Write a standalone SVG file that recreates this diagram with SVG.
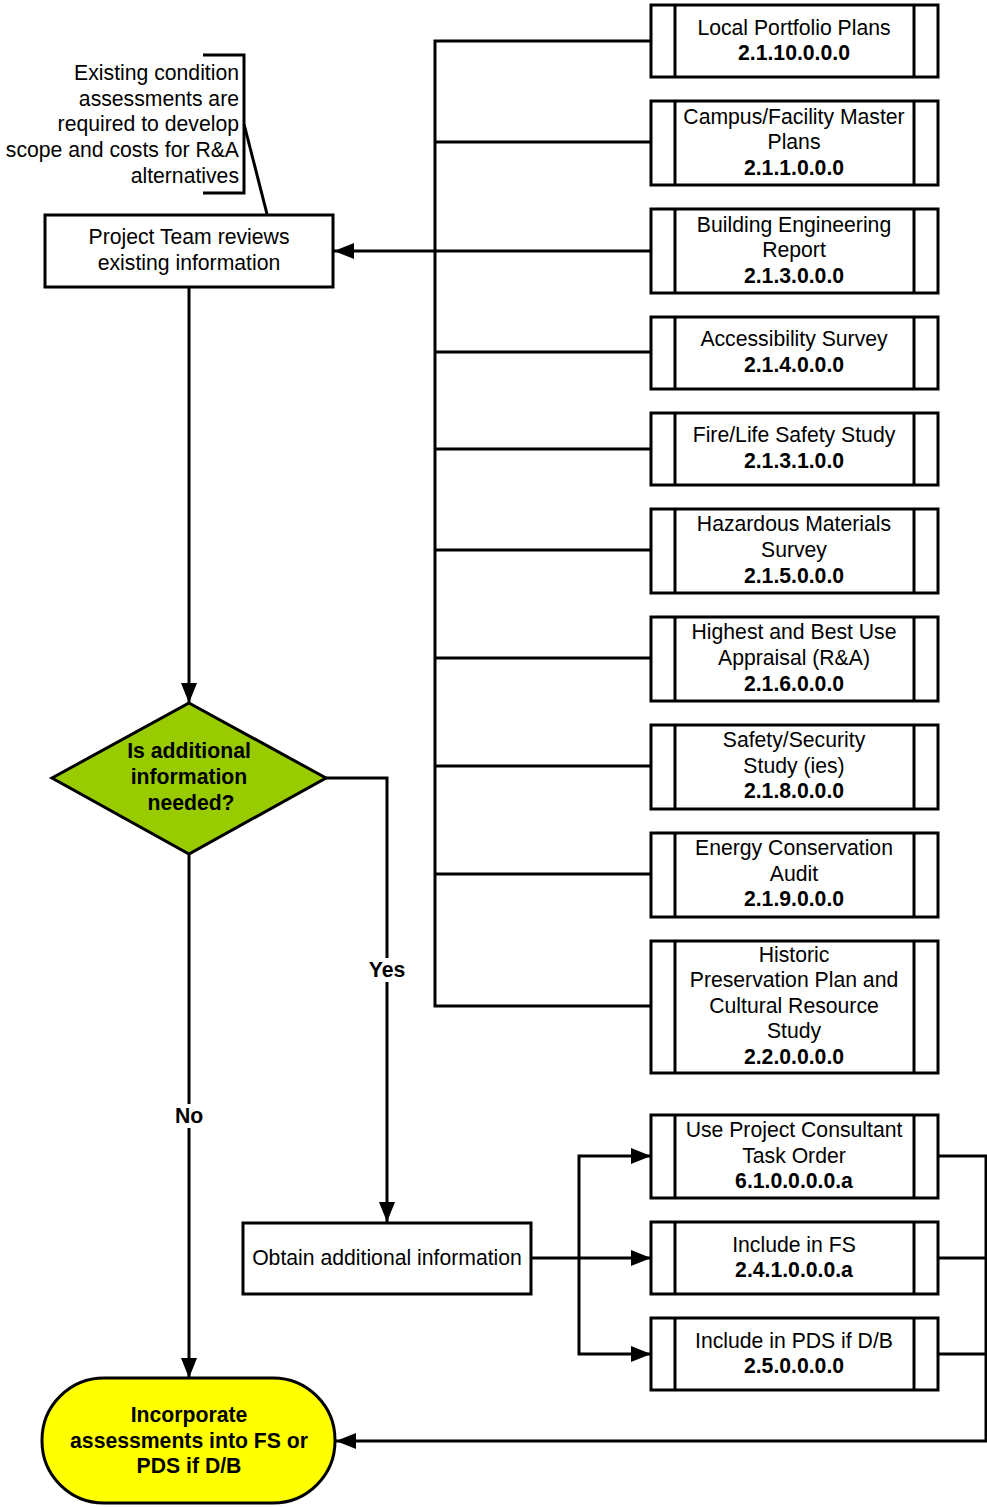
<svg xmlns="http://www.w3.org/2000/svg" width="987" height="1507" viewBox="0 0 987 1507">
<style>
text{font-family:"Liberation Sans",Arial,sans-serif;font-size:21.2px;fill:#000;text-anchor:middle}
.b{font-weight:bold}
.box{fill:#fff;stroke:#000;stroke-width:3}
.ln{fill:none;stroke:#000;stroke-width:3}
.c{fill:none;stroke:#000;stroke-width:3}
</style>
<defs>
<marker id="ah" viewBox="0 0 20 16" refX="20" refY="8" markerWidth="20" markerHeight="16" markerUnits="userSpaceOnUse" orient="auto">
<path d="M0,0 L20,8 L0,16 Z" fill="#000"/>
</marker>
</defs>

<g id="connectors">
<polyline class="c" points="651,41 435,41 435,1006 651,1006"/>
<line class="c" x1="435" y1="142" x2="651" y2="142"/>
<line class="c" x1="435" y1="251" x2="651" y2="251"/>
<line class="c" x1="435" y1="352" x2="651" y2="352"/>
<line class="c" x1="435" y1="449" x2="651" y2="449"/>
<line class="c" x1="435" y1="550" x2="651" y2="550"/>
<line class="c" x1="435" y1="658" x2="651" y2="658"/>
<line class="c" x1="435" y1="766" x2="651" y2="766"/>
<line class="c" x1="435" y1="874" x2="651" y2="874"/>
<line class="c" x1="435" y1="251" x2="334" y2="251" marker-end="url(#ah)"/>
<line class="c" x1="189" y1="287" x2="189" y2="703" marker-end="url(#ah)"/>
<polyline class="c" points="326,778 387,778 387,1222" marker-end="url(#ah)"/>
<line class="c" x1="189" y1="854" x2="189" y2="1378" marker-end="url(#ah)"/>
<line class="c" x1="531" y1="1258" x2="651" y2="1258" marker-end="url(#ah)"/>
<polyline class="c" points="579,1258 579,1156 651,1156" marker-end="url(#ah)"/>
<polyline class="c" points="579,1258 579,1354 651,1354" marker-end="url(#ah)"/>
<polyline class="c" points="938,1156 986,1156 986,1441 336,1441" marker-end="url(#ah)"/>
<line class="c" x1="938" y1="1258" x2="986" y2="1258"/>
<line class="c" x1="938" y1="1354" x2="986" y2="1354"/>
<rect x="365" y="958" width="44" height="24" fill="#fff"/>
<text class="b" x="387" y="977">Yes</text>
<rect x="171" y="1104" width="36" height="24" fill="#fff"/>
<text class="b" x="189" y="1123">No</text>
</g>

<g id="annotation">
<polyline class="ln" points="203,55 244,55 244,193 203,193"/>
<line class="ln" x1="244" y1="124" x2="267" y2="214"/>
<text x="239" y="80" style="text-anchor:end">Existing condition</text>
<text x="239" y="106" style="text-anchor:end">assessments are</text>
<text x="239" y="131" style="text-anchor:end">required to develop</text>
<text x="239" y="157" style="text-anchor:end">scope and costs for R&amp;A</text>
<text x="239" y="183" style="text-anchor:end">alternatives</text>
</g>

<g id="review">
<rect class="box" x="45" y="215" width="288" height="72"/>
<text x="189" y="244">Project Team reviews</text>
<text x="189" y="270">existing information</text>
</g>

<g id="decision">
<polygon points="189,703 326,778 189,854 52,778" fill="#99CC00" stroke="#000" stroke-width="3"/>
<text class="b" x="189" y="758">Is additional</text>
<text class="b" x="189" y="784">information</text>
<text class="b" x="191" y="810">needed?</text>
</g>

<g id="obtain">
<rect class="box" x="243" y="1223" width="288" height="71"/>
<text x="387" y="1265">Obtain additional information</text>
</g>

<g id="terminal">
<rect x="42" y="1378" width="293" height="125" rx="62" ry="62" fill="#FFFF00" stroke="#000" stroke-width="3"/>
<text class="b" x="189" y="1422">Incorporate</text>
<text class="b" x="189" y="1448">assessments into FS or</text>
<text class="b" x="189" y="1473">PDS if D/B</text>
</g>

<g id="p1">
<rect class="box" x="651" y="5" width="287" height="72"/><line class="ln" x1="675" y1="5" x2="675" y2="77"/><line class="ln" x1="914" y1="5" x2="914" y2="77"/>
<text x="794" y="35">Local Portfolio Plans</text><text class="b" x="794" y="60">2.1.10.0.0.0</text>
</g>
<g id="p2">
<rect class="box" x="651" y="101" width="287" height="84"/><line class="ln" x1="675" y1="101" x2="675" y2="185"/><line class="ln" x1="914" y1="101" x2="914" y2="185"/>
<text x="794" y="124">Campus/Facility Master</text><text x="794" y="149">Plans</text><text class="b" x="794" y="175">2.1.1.0.0.0</text>
</g>
<g id="p3">
<rect class="box" x="651" y="209" width="287" height="84"/><line class="ln" x1="675" y1="209" x2="675" y2="293"/><line class="ln" x1="914" y1="209" x2="914" y2="293"/>
<text x="794" y="232">Building Engineering</text><text x="794" y="257">Report</text><text class="b" x="794" y="283">2.1.3.0.0.0</text>
</g>
<g id="p4">
<rect class="box" x="651" y="317" width="287" height="72"/><line class="ln" x1="675" y1="317" x2="675" y2="389"/><line class="ln" x1="914" y1="317" x2="914" y2="389"/>
<text x="794" y="346">Accessibility Survey</text><text class="b" x="794" y="372">2.1.4.0.0.0</text>
</g>
<g id="p5">
<rect class="box" x="651" y="413" width="287" height="72"/><line class="ln" x1="675" y1="413" x2="675" y2="485"/><line class="ln" x1="914" y1="413" x2="914" y2="485"/>
<text x="794" y="442">Fire/Life Safety Study</text><text class="b" x="794" y="468">2.1.3.1.0.0</text>
</g>
<g id="p6">
<rect class="box" x="651" y="509" width="287" height="84"/><line class="ln" x1="675" y1="509" x2="675" y2="593"/><line class="ln" x1="914" y1="509" x2="914" y2="593"/>
<text x="794" y="531">Hazardous Materials</text><text x="794" y="557">Survey</text><text class="b" x="794" y="583">2.1.5.0.0.0</text>
</g>
<g id="p7">
<rect class="box" x="651" y="617" width="287" height="84"/><line class="ln" x1="675" y1="617" x2="675" y2="701"/><line class="ln" x1="914" y1="617" x2="914" y2="701"/>
<text x="794" y="639">Highest and Best Use</text><text x="794" y="665">Appraisal (R&amp;A)</text><text class="b" x="794" y="691">2.1.6.0.0.0</text>
</g>
<g id="p8">
<rect class="box" x="651" y="725" width="287" height="84"/><line class="ln" x1="675" y1="725" x2="675" y2="809"/><line class="ln" x1="914" y1="725" x2="914" y2="809"/>
<text x="794" y="747">Safety/Security</text><text x="794" y="773">Study (ies)</text><text class="b" x="794" y="798">2.1.8.0.0.0</text>
</g>
<g id="p9">
<rect class="box" x="651" y="833" width="287" height="84"/><line class="ln" x1="675" y1="833" x2="675" y2="917"/><line class="ln" x1="914" y1="833" x2="914" y2="917"/>
<text x="794" y="855">Energy Conservation</text><text x="794" y="881">Audit</text><text class="b" x="794" y="906">2.1.9.0.0.0</text>
</g>
<g id="p10">
<rect class="box" x="651" y="941" width="287" height="132"/><line class="ln" x1="675" y1="941" x2="675" y2="1073"/><line class="ln" x1="914" y1="941" x2="914" y2="1073"/>
<text x="794" y="962">Historic</text><text x="794" y="987">Preservation Plan and</text><text x="794" y="1013">Cultural Resource</text><text x="794" y="1038">Study</text><text class="b" x="794" y="1064">2.2.0.0.0.0</text>
</g>
<g id="p11">
<rect class="box" x="651" y="1115" width="287" height="83"/><line class="ln" x1="675" y1="1115" x2="675" y2="1198"/><line class="ln" x1="914" y1="1115" x2="914" y2="1198"/>
<text x="794" y="1137">Use Project Consultant</text><text x="794" y="1163">Task Order</text><text class="b" x="794" y="1188">6.1.0.0.0.0.a</text>
</g>
<g id="p12">
<rect class="box" x="651" y="1222" width="287" height="72"/><line class="ln" x1="675" y1="1222" x2="675" y2="1294"/><line class="ln" x1="914" y1="1222" x2="914" y2="1294"/>
<text x="794" y="1252">Include in FS</text><text class="b" x="794" y="1277">2.4.1.0.0.0.a</text>
</g>
<g id="p13">
<rect class="box" x="651" y="1318" width="287" height="72"/><line class="ln" x1="675" y1="1318" x2="675" y2="1390"/><line class="ln" x1="914" y1="1318" x2="914" y2="1390"/>
<text x="794" y="1348">Include in PDS if D/B</text><text class="b" x="794" y="1373">2.5.0.0.0.0</text>
</g>
</svg>
